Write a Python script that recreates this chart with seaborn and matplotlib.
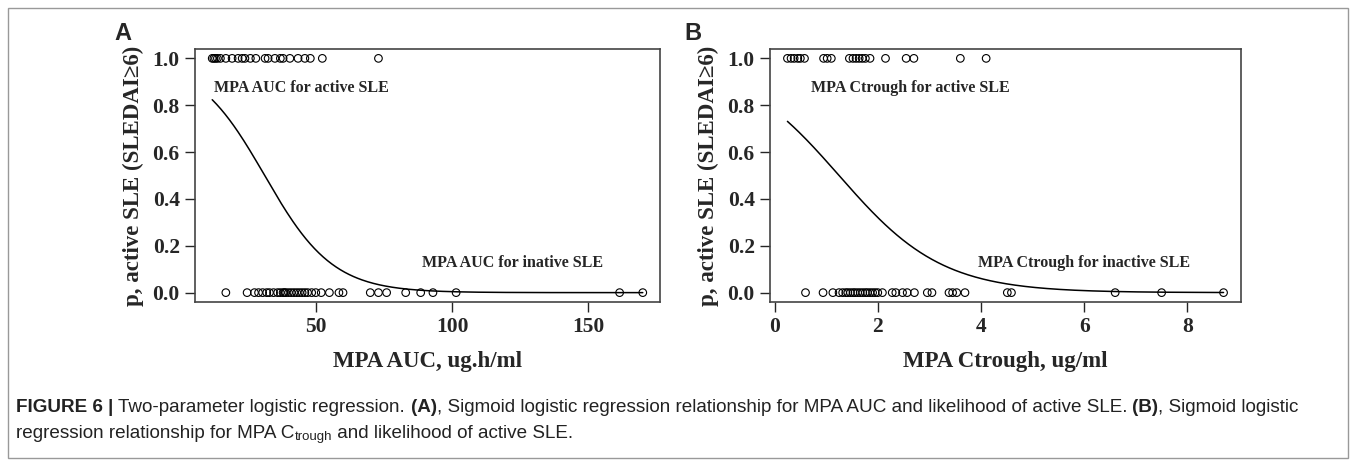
import numpy as np
import pandas as pd
import matplotlib
matplotlib.use("Agg")
import matplotlib.pyplot as plt
import seaborn as sns
from matplotlib.patches import Rectangle

# Points (outcome 1 = active SLE, 0 = inactive)
auc_active = [12.0, 12.6, 13.2, 13.9, 15.0, 17.0, 19.3, 21.5, 23.0, 24.0, 26.0,
              28.0, 31.4, 32.5, 35.0, 37.0, 38.0, 40.5, 43.5, 46.0, 48.0, 52.4, 73.0]
auc_inactive = [17.0, 24.8, 27.5, 29.0, 30.5, 32.0, 33.0, 34.5, 36.0, 37.0, 38.0,
                38.5, 39.0, 40.0, 41.0, 42.0, 43.0, 44.0, 45.0, 46.0, 47.0, 48.5,
                50.0, 52.0, 55.0, 58.5, 60.0, 70.0, 73.0, 76.0, 83.0, 88.5, 93.0,
                101.5, 161.5, 170.0]
ctrough_active = [0.25, 0.32, 0.38, 0.45, 0.5, 0.58, 0.95, 1.02, 1.1, 1.45, 1.52,
                  1.58, 1.64, 1.7, 1.76, 1.85, 2.15, 2.55, 2.7, 3.6, 4.1]
ctrough_inactive = [0.6, 0.94, 1.13, 1.25, 1.32, 1.38, 1.42, 1.47, 1.52, 1.56, 1.61,
                    1.66, 1.71, 1.76, 1.8, 1.85, 1.9, 1.95, 2.0, 2.09, 2.28, 2.35,
                    2.48, 2.57, 2.71, 2.96, 3.05, 3.38, 3.45, 3.53, 3.69, 4.51, 4.59,
                    6.6, 7.5, 8.7]

# two-parameter logistic fits (intercept, slope)
auc_coef = (2.5, -0.08)
ctrough_coef = (1.25, -1.0)

auc_ticks = [50, 100, 150]
ctrough_ticks = [0, 2, 4, 6, 8]
y_ticks = [0.0, 0.2, 0.4, 0.6, 0.8, 1.0]

sns.set_style("ticks")
plt.rcParams["font.family"] = ["Liberation Serif", "DejaVu Serif"]

fig = plt.figure(figsize=(13.56, 4.62), dpi=100)
W, H = 1356, 462


def px_axes(left, right, top, bottom):
    return fig.add_axes([left / W, 1 - bottom / H, (right - left) / W, (bottom - top) / H])


def panel(ax, active, inactive, coef, ticks, xlabel, txt_active, txt_inactive, pos_a, pos_i):
    df = pd.DataFrame({
        "x": list(active) + list(inactive),
        "p": [1.0] * len(active) + [0.0] * len(inactive),
    })
    sns.scatterplot(data=df, x="x", y="p", ax=ax, marker="o", s=30,
                    facecolor="none", edgecolor="black", linewidth=0.8)
    grid = np.linspace(df["x"].min(), df["x"].max(), 300)
    curve = pd.DataFrame({"x": grid, "p": 1 / (1 + np.exp(-(coef[0] + coef[1] * grid)))})
    sns.lineplot(data=curve, x="x", y="p", ax=ax, color="black", linewidth=1.1)
    ax.margins(0.04)
    ax.set_xticks(ticks)
    ax.set_yticks(y_ticks)
    ax.set_yticklabels([f"{v:.1f}" for v in y_ticks])
    ax.tick_params(length=7, width=1, labelsize=15.5, pad=4)
    for lab in ax.get_xticklabels() + ax.get_yticklabels():
        lab.set_fontweight("bold")
    for sp in ax.spines.values():
        sp.set_visible(True)
        sp.set_color("#444444")
        sp.set_linewidth(1.2)
    ax.set_xlabel(xlabel, fontsize=16.5, fontweight="bold", labelpad=10)
    ax.set_ylabel("p, active SLE (SLEDAI\u22656)", fontsize=16.5, fontweight="bold", labelpad=6)
    ax.text(pos_a[0], pos_a[1], txt_active, fontsize=11.5, fontweight="bold", va="center")
    ax.text(pos_i[0], pos_i[1], txt_inactive, fontsize=11.5, fontweight="bold", va="center")


ax_a = px_axes(195, 660, 49, 302)
panel(ax_a, auc_active, auc_inactive, auc_coef, auc_ticks, "MPA AUC, ug.h/ml",
      "MPA AUC for active SLE", "MPA AUC for inative SLE", (12.5, 0.875), (89, 0.128))

ax_b = px_axes(770, 1241, 49, 302)
panel(ax_b, ctrough_active, ctrough_inactive, ctrough_coef, ctrough_ticks, "MPA Ctrough, ug/ml",
      "MPA Ctrough for active SLE", "MPA Ctrough for inactive SLE", (0.7, 0.875), (3.95, 0.128))

sans = ["Liberation Sans", "DejaVu Sans"]
fig.text(123 / W, 1 - 33 / H, "A", fontsize=17, fontweight="bold", family=sans, ha="center", va="center")
fig.text(693 / W, 1 - 33 / H, "B", fontsize=17, fontweight="bold", family=sans, ha="center", va="center")

# caption made of runs (bold / normal / subscript)
renderer = fig.canvas.get_renderer()


def runs(x0, y0, parts, size):
    x = x0
    for s, bold, sub in parts:
        t = fig.text(x / W, 1 - (y0 + (4 if sub else 0)) / H, s, family=sans,
                     fontsize=size * (0.7 if sub else 1.0),
                     fontweight="bold" if bold else "normal", va="center", color="#222222")
        x += t.get_window_extent(renderer).width


cap = 13.6
runs(16, 408, [("FIGURE 6 | ", True, False),
               ("Two-parameter logistic regression. ", False, False),
               ("(A)", True, False),
               (", Sigmoid logistic regression relationship for MPA AUC and likelihood of active SLE. ", False, False),
               ("(B)", True, False),
               (", Sigmoid logistic", False, False)], cap)
runs(16, 433, [("regression relationship for MPA C", False, False),
               ("trough", False, True),
               (" and likelihood of active SLE.", False, False)], cap)

fig.patches.append(Rectangle((8 / W, 4 / H), 1340 / W, 450 / H, transform=fig.transFigure,
                             fill=False, edgecolor="#999999", linewidth=1))

fig.savefig("out.png", dpi=100)
